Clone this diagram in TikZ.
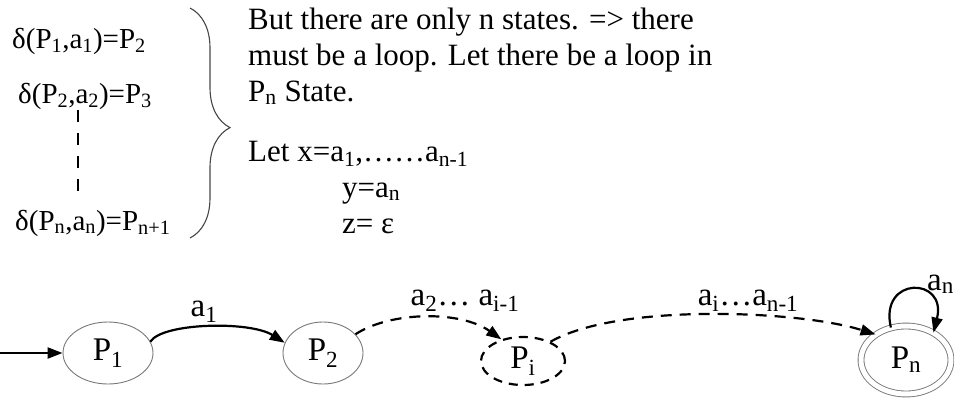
\documentclass[tikz,border=0pt]{standalone}
\usepackage{fontspec}
\setmainfont{Liberation Serif}
\usetikzlibrary{arrows.meta,positioning,shapes.geometric,decorations.pathreplacing}
\definecolor{rim}{RGB}{120,120,120}
\definecolor{bracegray}{RGB}{70,70,70}

\begin{document}
\begin{tikzpicture}[x=1pt,y=1pt,
  state/.style={ellipse,draw=rim,line width=0.9pt,inner sep=0pt,font=\fontsize{33}{36}\selectfont},
  edge/.style={line width=2.2pt,-{Triangle[length=15pt,width=11pt]}},
  dashedge/.style={edge,dash pattern=on 11pt off 8pt},
  lbl/.style={anchor=base,inner sep=0pt,font=\fontsize{33}{36}\selectfont},
  eqn/.style={anchor=base west,inner sep=0pt,font=\fontsize{29}{31}\selectfont},
  note/.style={anchor=base west,inner sep=0pt,align=left,font=\fontsize{31}{36}\selectfont}]
\useasboundingbox (0,0) rectangle (954,-400);
\node[eqn] (eq1) at (12,-48) {δ(P\textsubscript{1},a\textsubscript{1})=P\textsubscript{2}};
\node[eqn] (eq2) at (18,-103) {δ(P\textsubscript{2},a\textsubscript{2})=P\textsubscript{3}};
\node[eqn] (eq3) at (15,-230) {δ(P\textsubscript{n},a\textsubscript{n})=P\textsubscript{n+1}};
\coordinate (gap1) at (78,-110); \coordinate (gap2) at (78,-198);
\draw[line width=2.2pt,dash pattern=on 12pt off 11pt] (gap1) -- (gap2);
\coordinate (btop) at (190,-8); \coordinate (bbot) at (190,-238);
\draw[bracegray,line width=1.1pt,decorate,decoration={brace,amplitude=40pt,aspect=0.52}] (btop) -- (bbot);
\node[note] (claim) at (248,-101) {But there are only n states. => there\\must be a loop. Let there be a loop in\\P\textsubscript{n} State.};
\node[note] (letx) at (248,-161) {Let x=a\textsubscript{1},……a\textsubscript{n-1}};
\node[note] (ydef) at (342,-197) {y=a\textsubscript{n}};
\node[note] (zdef) at (342,-233) {z= ε};
\node[state,minimum width=90pt,minimum height=62pt] (p1) at (108,-353) {P\textsubscript{1}};
\node[state,minimum width=80pt,minimum height=62pt] (p2) at (323,-353) {P\textsubscript{2}};
\node[state,draw=black,line width=2.2pt,dash pattern=on 9pt off 7pt,minimum width=84pt,minimum height=48pt] (pi) at (523,-361) {P\textsubscript{i}};
\node[state,double,double distance=5pt,minimum width=90pt,minimum height=68pt] (pn) at (906,-360) {P\textsubscript{n}};
\coordinate (entry) at (0,-353);
\draw[edge] (entry) -- (p1);
\draw[edge] (p1.15) .. controls +(12,19) and +(-35,22) .. (p2.165);
\draw[dashedge] (p2.30) .. controls +(35,23) and +(-41,29) .. (pi.135);
\draw[dashedge] (pi.35) .. controls +(68,39) and +(-76,24) .. (pn.140);
\draw[edge] (pn.115) .. controls +(-12,52) and +(14,56) .. (pn.45);
\node[lbl] (l1) at (204,-316) {a\textsubscript{1}};
\node[lbl] (l2) at (465,-305) {a\textsubscript{2}… a\textsubscript{i-1}};
\node[lbl] (l3) at (748,-305) {a\textsubscript{i}…a\textsubscript{n-1}};
\node[lbl,anchor=base west] (l4) at (927,-290) {a\textsubscript{n}};
\end{tikzpicture}
\end{document}
